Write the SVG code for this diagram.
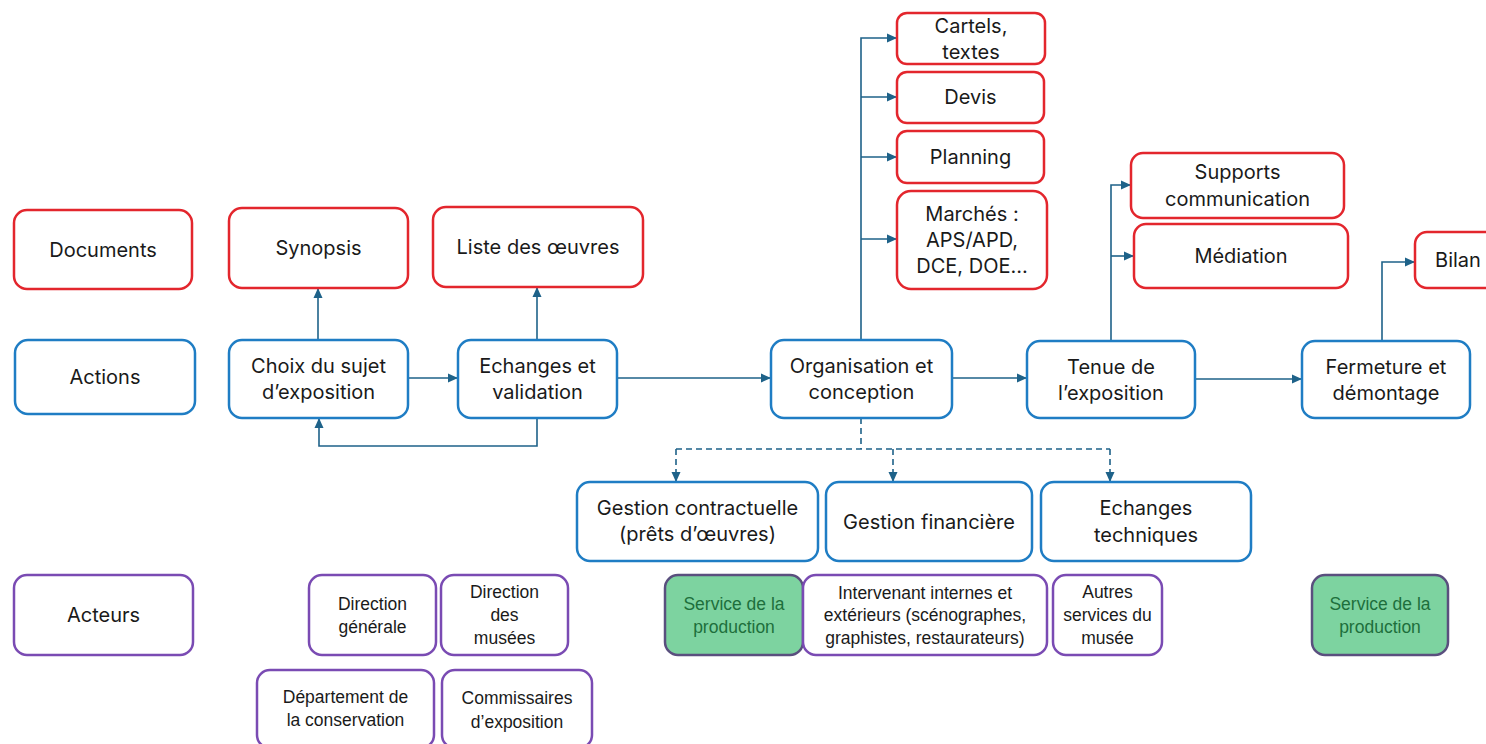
<svg xmlns="http://www.w3.org/2000/svg" width="1486" height="744" viewBox="0 0 1486 744">
<style>
  .doc { fill: #ffffff; stroke: #e3262d; stroke-width: 2.5; }
  .act { fill: #ffffff; stroke: #1f7dc4; stroke-width: 2.5; }
  .actr { fill: #ffffff; stroke: #7a4bb3; stroke-width: 2.5; }
  .prod { fill: #7dd3a0; stroke: #5a4f7e; stroke-width: 2.5; }
  text { font-family: Inter, "Liberation Sans", sans-serif; font-size: 20px; fill: #1a1a1a; text-anchor: middle; dominant-baseline: central; }
  text.s { font-family: "Liberation Sans", Arial, sans-serif; font-size: 17.5px; }
  text.g { font-family: "Liberation Sans", Arial, sans-serif; font-size: 17.5px; fill: #1d6f3c; }
  .c { fill: none; stroke: #1e6289; stroke-width: 1.6; }
  .d { fill: none; stroke: #1e6289; stroke-width: 1.6; stroke-dasharray: 6 4; }
</style>
<defs>
  <marker id="ah" viewBox="0 0 10 10" refX="10" refY="5" markerWidth="10" markerHeight="10" markerUnits="userSpaceOnUse" orient="auto">
    <path d="M0,0.5 L10,5 L0,9.5 z" fill="#1e6289"/>
  </marker>
</defs>
<rect width="1486" height="744" fill="#ffffff"/>

<g id="connectors">
  <path class="c" d="M408,378 H458" marker-end="url(#ah)"/>
  <path class="c" d="M318,340 V288" marker-end="url(#ah)"/>
  <path class="c" d="M537,340 V287" marker-end="url(#ah)"/>
  <path class="c" d="M537,418 V446 H319 V418" marker-end="url(#ah)"/>
  <path class="c" d="M617,378 H771" marker-end="url(#ah)"/>
  <path class="c" d="M861,340 V38 H897" marker-end="url(#ah)"/>
  <path class="c" d="M861,97 H897" marker-end="url(#ah)"/>
  <path class="c" d="M861,157 H897" marker-end="url(#ah)"/>
  <path class="c" d="M861,239 H897" marker-end="url(#ah)"/>
  <path class="c" d="M952,378 H1027" marker-end="url(#ah)"/>
  <path class="c" d="M1111,341 V185 H1131" marker-end="url(#ah)"/>
  <path class="c" d="M1111,256 H1134" marker-end="url(#ah)"/>
  <path class="c" d="M1195,379 H1302" marker-end="url(#ah)"/>
  <path class="c" d="M1382,341 V262 H1415" marker-end="url(#ah)"/>
  <path class="d" d="M861,418 V449"/>
  <path class="d" d="M676,449 H1110"/>
  <path class="d" d="M676,449 V482" marker-end="url(#ah)"/>
  <path class="d" d="M893,449 V482" marker-end="url(#ah)"/>
  <path class="d" d="M1110,449 V482" marker-end="url(#ah)"/>
</g>

<g id="documents"><rect class="doc" x="14" y="210" width="178" height="79" rx="13"/><text x="103" y="249.5">Documents</text></g>
<g id="synopsis"><rect class="doc" x="229" y="208" width="179" height="80" rx="13"/><text x="318.5" y="248">Synopsis</text></g>
<g id="liste"><rect class="doc" x="433" y="207" width="210" height="80" rx="13"/><text x="538" y="247">Liste des œuvres</text></g>
<g id="cartels"><rect class="doc" x="897" y="13" width="148" height="51" rx="10"/><text x="971" y="26">Cartels,</text><text x="971" y="52">textes</text></g>
<g id="devis"><rect class="doc" x="897" y="72" width="147" height="51" rx="10"/><text x="970.5" y="97">Devis</text></g>
<g id="planning"><rect class="doc" x="897" y="131" width="147" height="52" rx="10"/><text x="970.5" y="157">Planning</text></g>
<g id="marches"><rect class="doc" x="897" y="191" width="150" height="98" rx="14"/><text x="972" y="214">Marchés :</text><text x="972" y="240">APS/APD,</text><text x="972" y="266">DCE, DOE…</text></g>
<g id="supports"><rect class="doc" x="1131" y="153" width="213" height="65" rx="12"/><text x="1237.5" y="172">Supports</text><text x="1237.5" y="199">communication</text></g>
<g id="mediation"><rect class="doc" x="1134" y="224" width="214" height="64" rx="12"/><text x="1241" y="256">Médiation</text></g>
<g id="bilan"><rect class="doc" x="1415" y="232" width="90" height="56" rx="12"/><text x="1458" y="260">Bilan</text></g>

<g id="actions"><rect class="act" x="15" y="340" width="180" height="74" rx="13"/><text x="105" y="377">Actions</text></g>
<g id="choix"><rect class="act" x="229" y="340" width="179" height="78" rx="13"/><text x="318.5" y="366">Choix du sujet</text><text x="318.5" y="392">d’exposition</text></g>
<g id="echanges"><rect class="act" x="458" y="340" width="159" height="78" rx="13"/><text x="537.5" y="366">Echanges et</text><text x="537.5" y="392">validation</text></g>
<g id="organisation"><rect class="act" x="771" y="340" width="181" height="78" rx="13"/><text x="861.5" y="366">Organisation et</text><text x="861.5" y="392">conception</text></g>
<g id="tenue"><rect class="act" x="1027" y="341" width="168" height="77" rx="13"/><text x="1111" y="367">Tenue de</text><text x="1111" y="393">l’exposition</text></g>
<g id="fermeture"><rect class="act" x="1302" y="341" width="168" height="77" rx="13"/><text x="1386" y="367">Fermeture et</text><text x="1386" y="393">démontage</text></g>
<g id="gestion-contractuelle"><rect class="act" x="577" y="482" width="241" height="79" rx="13"/><text x="697.5" y="508">Gestion contractuelle</text><text x="697.5" y="534">(prêts d’œuvres)</text></g>
<g id="gestion-financiere"><rect class="act" x="826" y="482" width="206" height="79" rx="13"/><text x="929" y="521.5">Gestion financière</text></g>
<g id="echanges-techniques"><rect class="act" x="1041" y="482" width="210" height="79" rx="13"/><text x="1146" y="508">Echanges</text><text x="1146" y="535">techniques</text></g>

<g id="acteurs"><rect class="actr" x="14" y="575" width="179" height="80" rx="13"/><text x="103.5" y="615">Acteurs</text></g>
<g id="direction-generale"><rect class="actr" x="309" y="575" width="127" height="80" rx="13"/><text class="s" x="372.5" y="604">Direction</text><text class="s" x="372.5" y="627">générale</text></g>
<g id="direction-musees"><rect class="actr" x="441" y="575" width="127" height="80" rx="13"/><text class="s" x="504.5" y="592">Direction</text><text class="s" x="504.5" y="615">des</text><text class="s" x="504.5" y="638">musées</text></g>
<g id="departement"><rect class="actr" x="257" y="670" width="177" height="78" rx="13"/><text class="s" x="345.5" y="697">Département de</text><text class="s" x="345.5" y="720">la conservation</text></g>
<g id="commissaires"><rect class="actr" x="442" y="670" width="150" height="78" rx="13"/><text class="s" x="517" y="698">Commissaires</text><text class="s" x="517" y="722">d’exposition</text></g>
<g id="service-production-1"><rect class="prod" x="665" y="575" width="138" height="80" rx="13"/><text class="g" x="734" y="604">Service de la</text><text class="g" x="734" y="627">production</text></g>
<g id="intervenants"><rect class="actr" x="803" y="575" width="244" height="80" rx="13"/><text class="s" x="925" y="593">Intervenant internes et</text><text class="s" x="925" y="615">extérieurs (scénographes,</text><text class="s" x="925" y="638">graphistes, restaurateurs)</text></g>
<g id="autres-services"><rect class="actr" x="1053" y="575" width="109" height="80" rx="13"/><text class="s" x="1107.5" y="592">Autres</text><text class="s" x="1107.5" y="615">services du</text><text class="s" x="1107.5" y="638">musée</text></g>
<g id="service-production-2"><rect class="prod" x="1312" y="575" width="136" height="80" rx="13"/><text class="g" x="1380" y="604">Service de la</text><text class="g" x="1380" y="627">production</text></g>
</svg>
